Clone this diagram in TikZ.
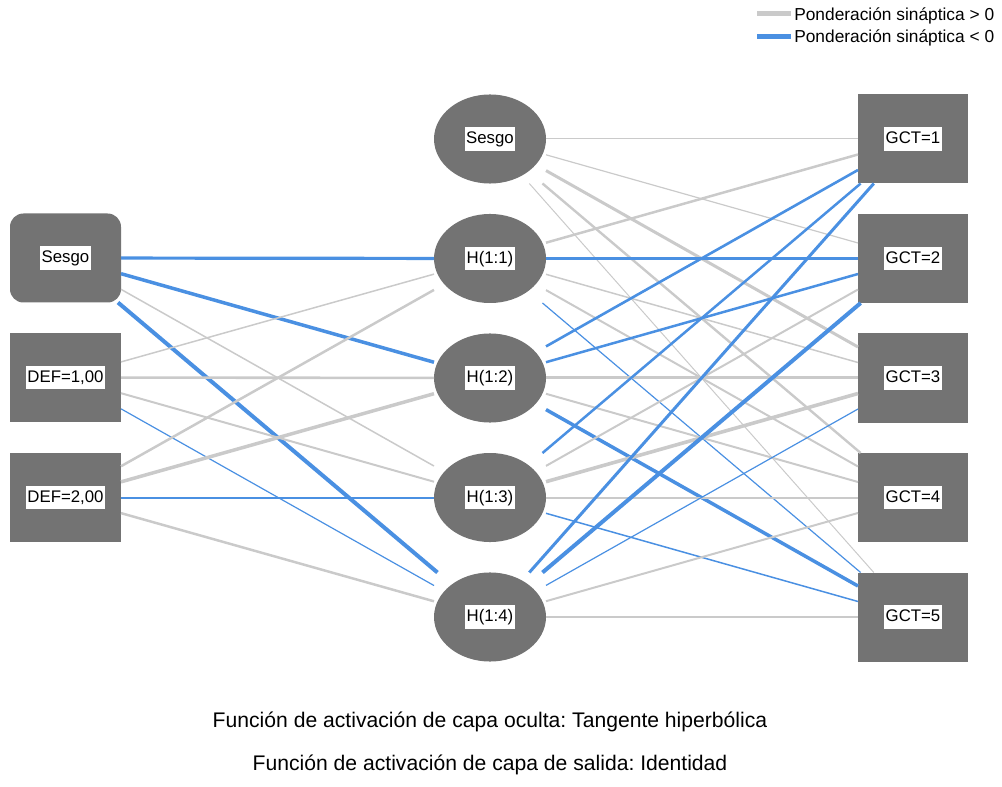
\documentclass[tikz,border=0pt]{standalone}
\usepackage{fontspec}
\setmainfont{Liberation Sans}
\frenchspacing
\definecolor{nodegray}{RGB}{115,115,115}
\definecolor{wpos}{RGB}{202,202,202}
\definecolor{wneg}{RGB}{74,144,226}

\begin{document}
\begin{tikzpicture}[x=0.75pt,y=-0.75pt,
  unitbox/.style={rectangle, fill=nodegray, draw=none, minimum width=83.25pt,
    minimum height=66.75pt, inner sep=0pt, outer sep=0pt},
  biasbox/.style={unitbox, rounded corners=10pt},
  outbox/.style={unitbox, minimum width=82.5pt},
  hidunit/.style={rectangle, draw=none, minimum width=84pt, minimum height=66.75pt,
    inner sep=0pt, outer sep=0pt,
    path picture={\fill[nodegray] (path picture bounding box.center)
      ellipse [x radius=42pt, y radius=33.4pt];}},
  tag/.style={fill=white, font=\fontsize{12.6}{14}\selectfont, inner xsep=1.2pt,
    inner ysep=2.6pt, text height=9.8pt, text depth=2.8pt},
  gw/.style={draw=wpos, line width=#1*0.75pt},
  bw/.style={draw=wneg, line width=#1*0.75pt},
  legtext/.style={anchor=base west, inner sep=0pt, font=\fontsize{13}{15}\selectfont},
  captext/.style={anchor=base, inner sep=0pt, font=\fontsize{15.85}{18}\selectfont},
]
\useasboundingbox (0,0) rectangle (1002,787);

% input layer
\node[biasbox, label={[tag]center:Sesgo}] (i0) at (65.5,258) {};
\node[unitbox, label={[tag]center:DEF=1,00}] (i1) at (65.5,377.5) {};
\node[unitbox, label={[tag]center:DEF=2,00}] (i2) at (65.5,497.5) {};

% hidden layer
\node[hidunit, label={[tag]center:Sesgo}] (hb) at (490,139) {};
\node[hidunit, label={[tag]center:H(1:1)}] (h1) at (490,258.5) {};
\node[hidunit, label={[tag]center:H(1:2)}] (h2) at (490,378) {};
\node[hidunit, label={[tag]center:H(1:3)}] (h3) at (490,497.5) {};
\node[hidunit, label={[tag]center:H(1:4)}] (h4) at (490,617) {};

% output layer
\node[outbox, label={[tag]center:GCT=1}] (o1) at (913,139) {};
\node[outbox, label={[tag]center:GCT=2}] (o2) at (913,258.5) {};
\node[outbox, label={[tag]center:GCT=3}] (o3) at (913,378) {};
\node[outbox, label={[tag]center:GCT=4}] (o4) at (913,497.5) {};
\node[outbox, label={[tag]center:GCT=5}] (o5) at (913,617) {};

% input -> hidden weights
\draw[bw=3.2] (i0) -- (h1);
\draw[bw=3.5] (i0) -- (h2);
\draw[gw=1.5] (i0) -- (h3);
\draw[bw=4]   (i0) -- (h4);
\draw[gw=1.5] (i1) -- (h1);
\draw[gw=2.6] (i1) -- (h2);
\draw[gw=2]   (i1) -- (h3);
\draw[bw=1.2] (i1) -- (h4);
\draw[gw=2.5] (i2) -- (h1);
\draw[gw=3.5] (i2) -- (h2);
\draw[bw=2]   (i2) -- (h3);
\draw[gw=2.5] (i2) -- (h4);

% hidden -> output weights
\draw[gw=1]   (hb) -- (o1);
\draw[gw=1.2] (hb) -- (o2);
\draw[gw=3]   (hb) -- (o3);
\draw[gw=2.4] (hb) -- (o4);
\draw[gw=1]   (hb) -- (o5);
\draw[gw=2.5] (h1) -- (o1);
\draw[bw=2.6] (h1) -- (o2);
\draw[gw=1.5] (h1) -- (o3);
\draw[gw=2]   (h1) -- (o4);
\draw[bw=1.2] (h1) -- (o5);
\draw[bw=2.6] (h2) -- (o1);
\draw[bw=2.5] (h2) -- (o2);
\draw[gw=3]   (h2) -- (o3);
\draw[gw=2]   (h2) -- (o4);
\draw[bw=3.5] (h2) -- (o5);
\draw[bw=2.5] (h3) -- (o1);
\draw[gw=2]   (h3) -- (o2);
\draw[gw=3.6] (h3) -- (o3);
\draw[gw=2]   (h3) -- (o4);
\draw[bw=1.5] (h3) -- (o5);
\draw[bw=3]   (h4) -- (o1);
\draw[bw=4]   (h4) -- (o2);
\draw[bw=1.2] (h4) -- (o3);
\draw[gw=2]   (h4) -- (o4);
\draw[gw=1.5] (h4) -- (o5);

% legend
\coordinate (lgA) at (757,13.5);
\coordinate (lgB) at (791,13.5);
\coordinate (lgC) at (757,36.5);
\coordinate (lgD) at (791,36.5);
\draw[gw=4.5] (lgA) -- (lgB);
\draw[bw=4.5] (lgC) -- (lgD);
\node[legtext] (lgpos) at (794,20.7) {Ponderación sináptica > 0};
\node[legtext] (lgneg) at (794,42.7) {Ponderación sináptica < 0};

% activation functions
\node[captext] (capH) at (490,727.3) {Función de activación de capa oculta: Tangente hiperbólica};
\node[captext] (capO) at (490,770) {Función de activación de capa de salida: Identidad};
\end{tikzpicture}
\end{document}
